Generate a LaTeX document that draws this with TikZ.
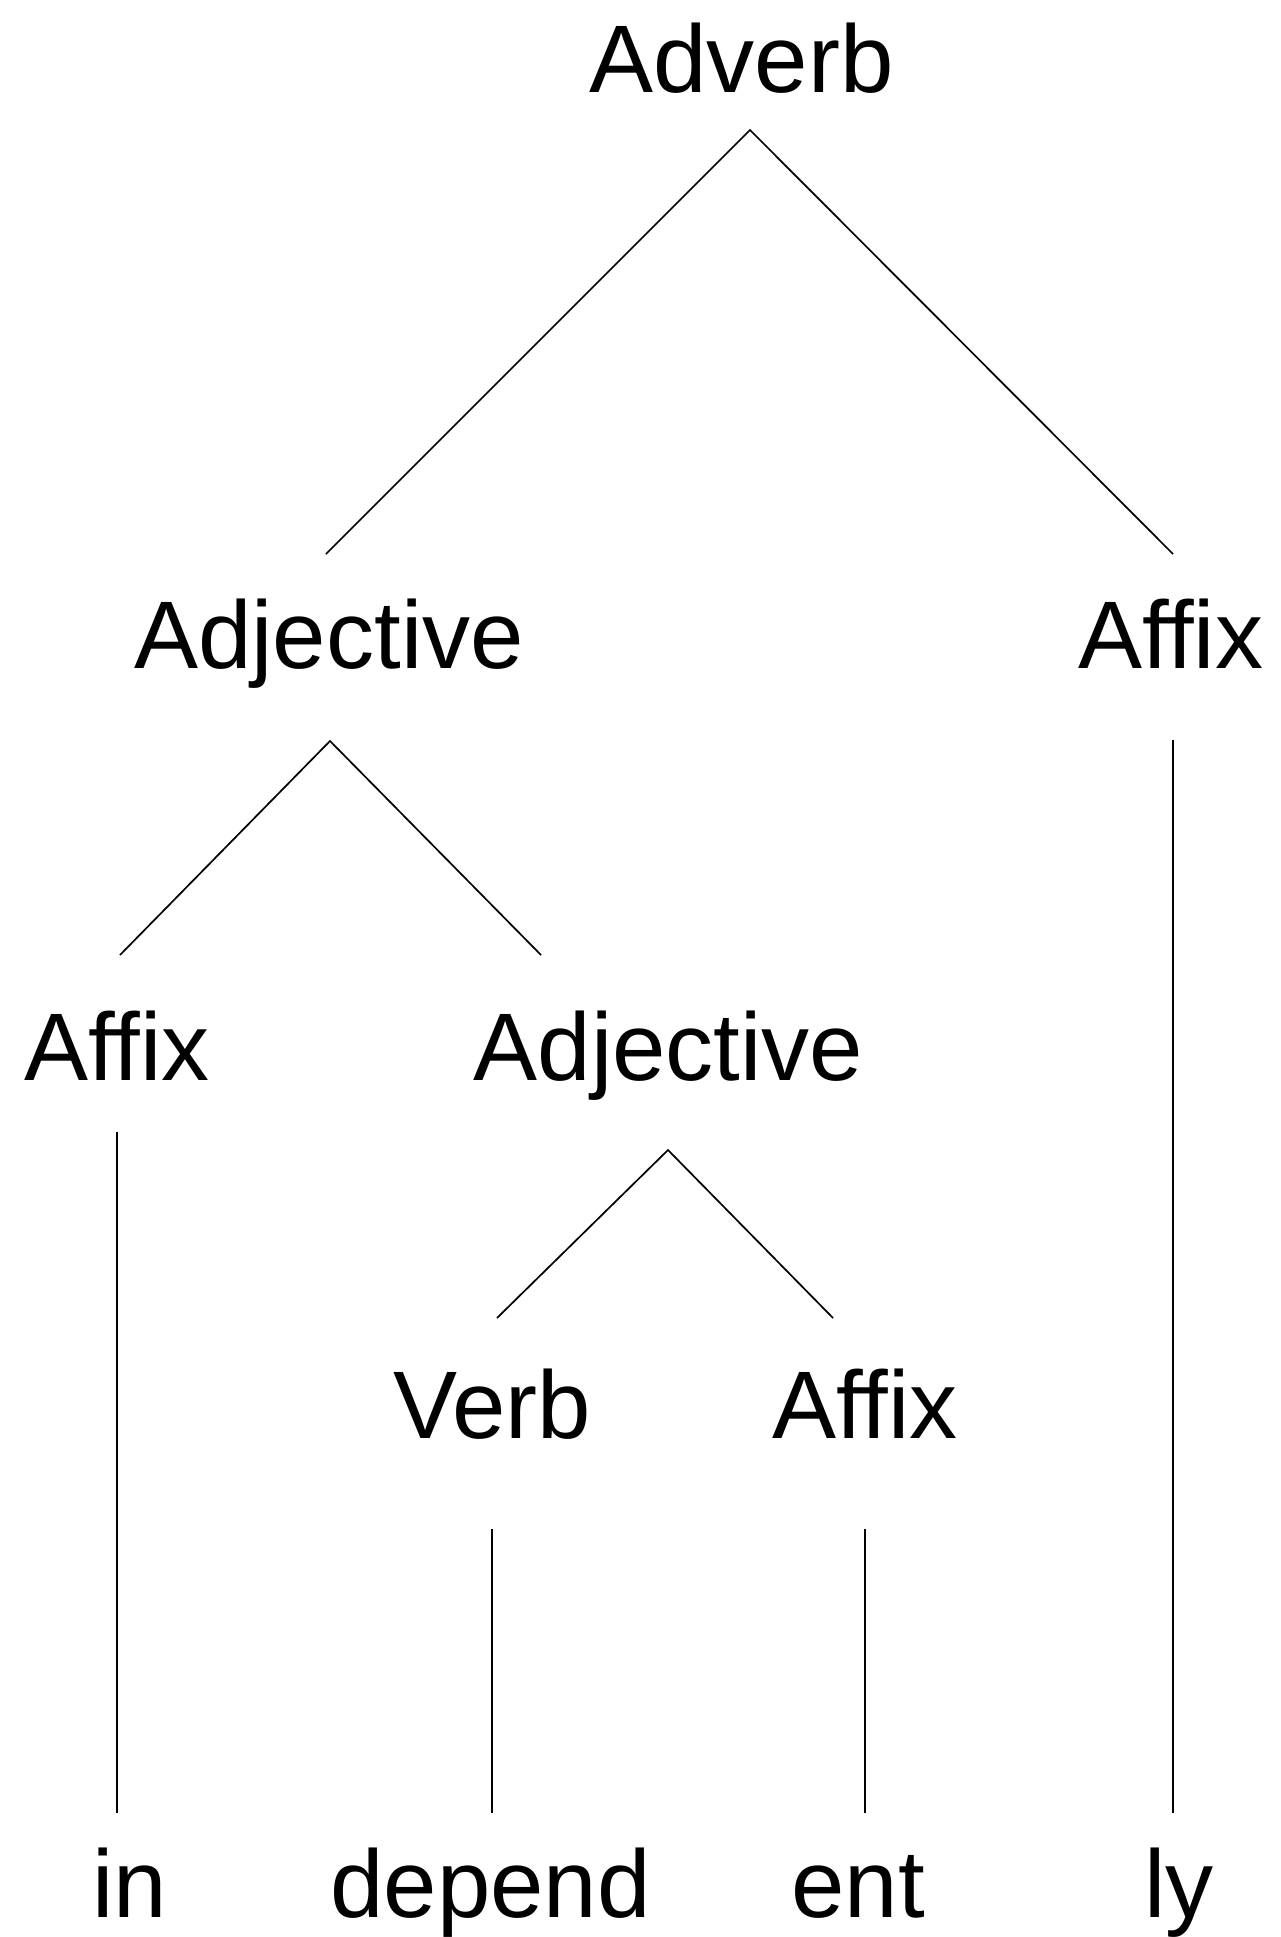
\documentclass[tikz,border=0pt]{standalone}
\usepackage{fontspec}
\setmainfont{Liberation Sans}
\begin{document}
\begin{tikzpicture}[x=1pt,y=-1pt,
  lbl/.style={anchor=base,inner sep=0pt,font=\fontsize{96}{110}\selectfont},
  edge/.style={draw=black,line width=1.7pt}]
\useasboundingbox[fill=white] (0,0) rectangle (1281,1937);
% labels
\node[lbl] (adv) at (741.5,93) {Adverb};
\node[lbl] (adjA) at (329,668) {Adjective};
\node[lbl] (affR) at (1170.5,668) {Affix};
\node[lbl] (affL) at (117,1080) {Affix};
\node[lbl] (adjB) at (668.5,1080) {Adjective};
\node[lbl] (verb) at (492.5,1438) {Verb};
\node[lbl] (affM) at (865,1438) {Affix};
\node[lbl] (win) at (129.5,1917) {in};
\node[lbl] (wdep) at (490.5,1917) {depend};
\node[lbl] (went) at (858,1917) {ent};
\node[lbl] (wly) at (1179,1917) {ly};
% line end points
\coordinate (adv-b) at (750,130);
\coordinate (adjA-t) at (326,554);
\coordinate (affR-t) at (1173,554);
\coordinate (adjA-b) at (330,741);
\coordinate (affL-t) at (120,955);
\coordinate (adjB-t) at (541,955);
\coordinate (affR-b) at (1173,740);
\coordinate (wly-t) at (1173,1813);
\coordinate (affL-b) at (117,1132);
\coordinate (win-t) at (117,1813);
\coordinate (adjB-b) at (668,1150);
\coordinate (verb-t) at (497,1318);
\coordinate (affM-t) at (833,1318);
\coordinate (verb-b) at (492,1529);
\coordinate (wdep-t) at (492,1813);
\coordinate (affM-b) at (865,1529);
\coordinate (went-t) at (865,1813);
% connectors
\draw[edge] (adjA-t) -- (adv-b) -- (affR-t);
\draw[edge] (affL-t) -- (adjA-b) -- (adjB-t);
\draw[edge] (verb-t) -- (adjB-b) -- (affM-t);
\draw[edge] (affR-b) -- (wly-t);
\draw[edge] (affL-b) -- (win-t);
\draw[edge] (verb-b) -- (wdep-t);
\draw[edge] (affM-b) -- (went-t);
\end{tikzpicture}
\end{document}
